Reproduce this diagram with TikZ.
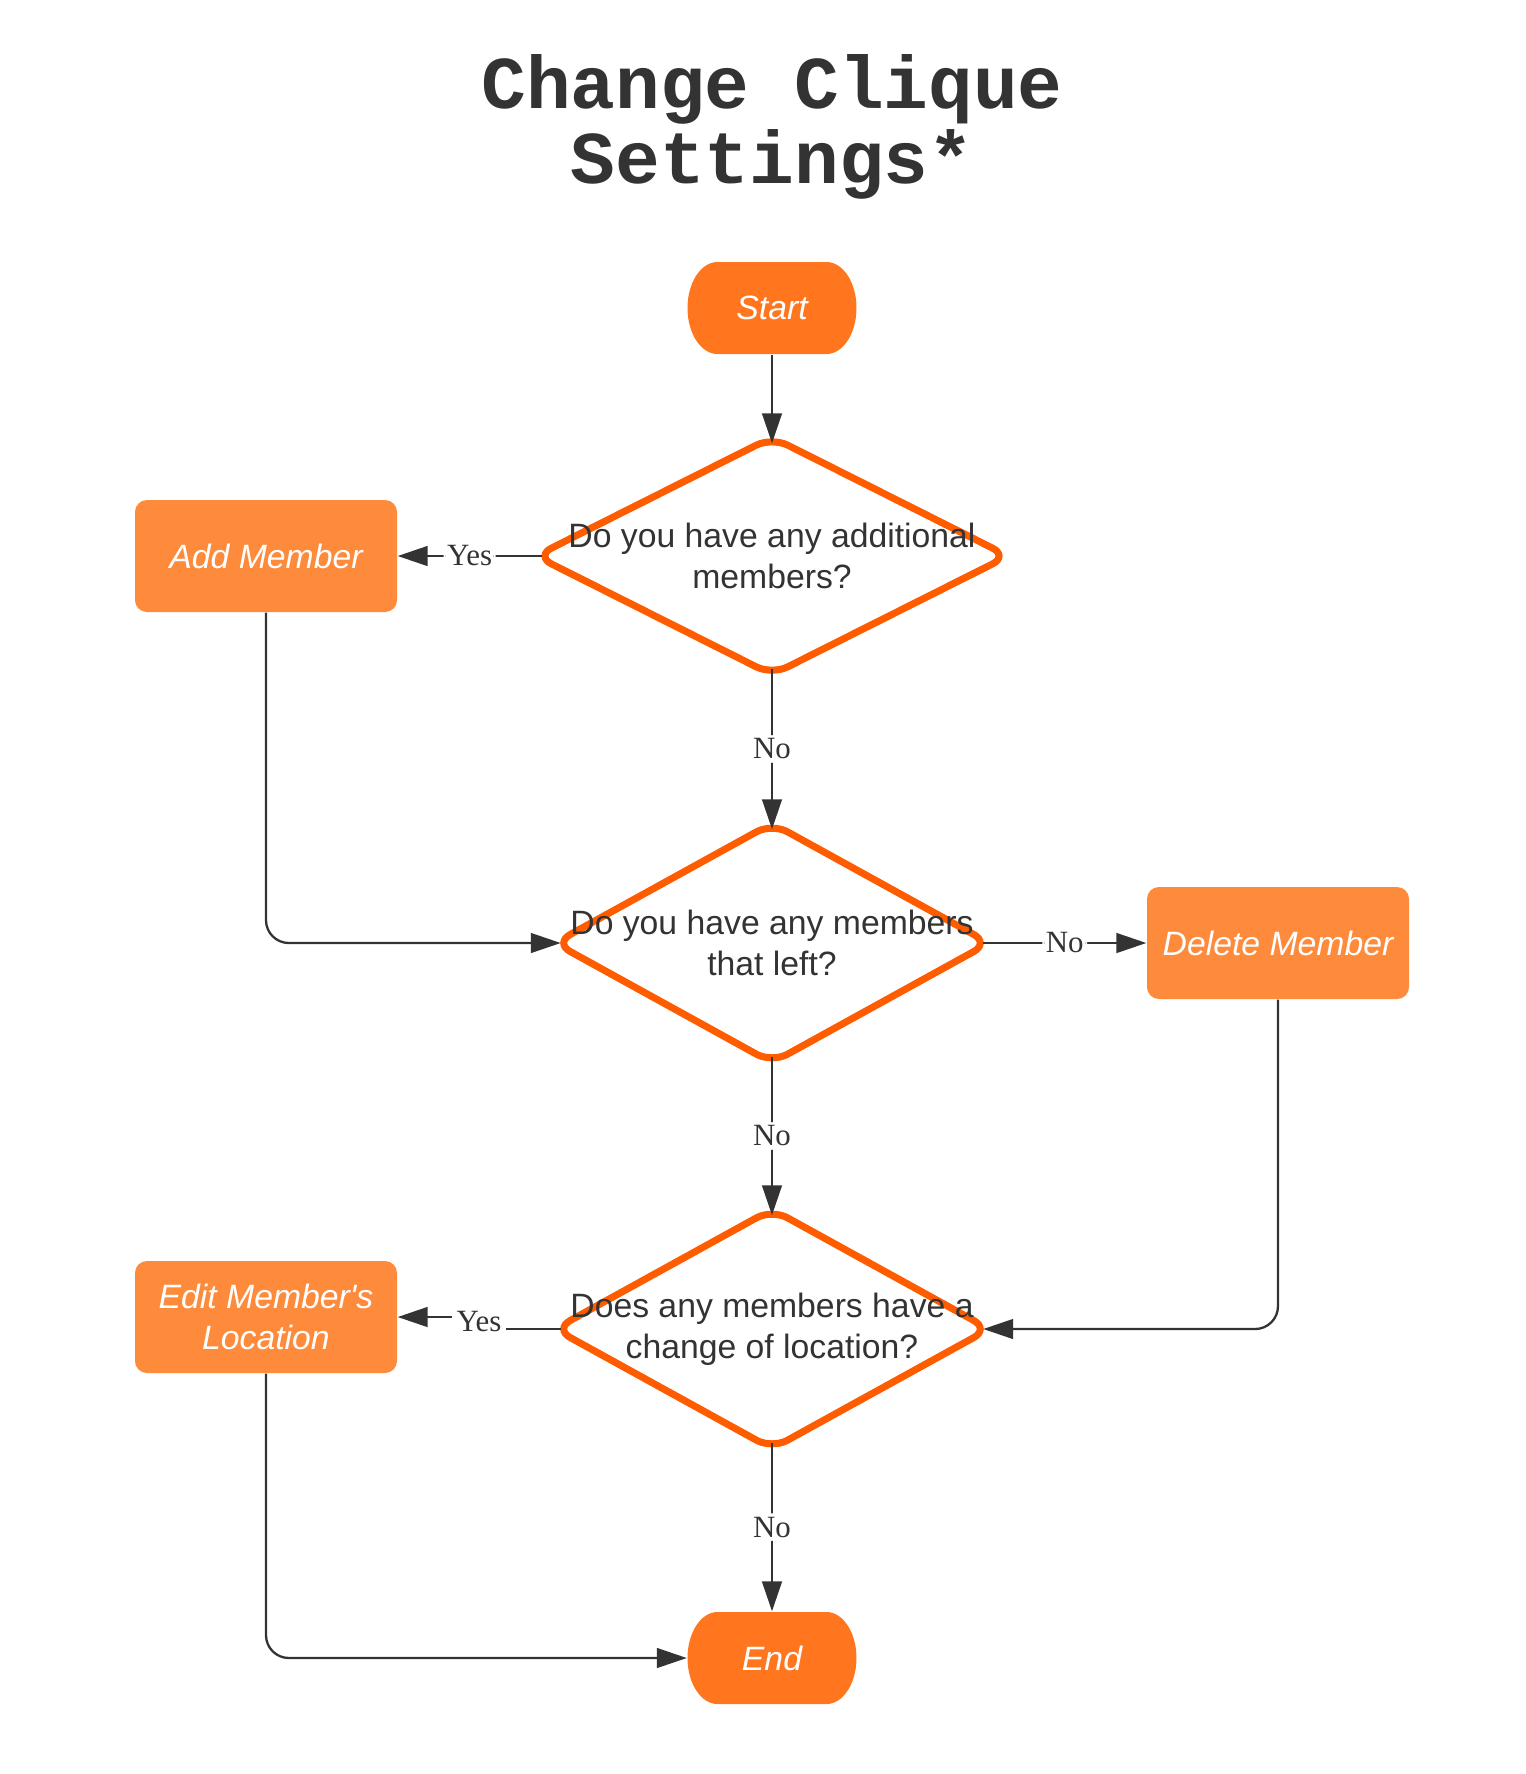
\documentclass[tikz,border=0pt]{standalone}
\usepackage{fontspec}
\setmainfont{Liberation Serif}
\setsansfont{Liberation Sans}
\newfontfamily\titlefont{Liberation Mono}
\usetikzlibrary{positioning, arrows.meta, shapes.geometric}

\definecolor{inkgray}{HTML}{333333}
\definecolor{termorange}{HTML}{FF761F}
\definecolor{boxorange}{HTML}{FE8A3B}
\definecolor{lineorange}{HTML}{FF5C00}

\begin{document}
\begin{tikzpicture}[
  >={Triangle[length=8.5pt, width=5.6pt]},
  edge/.style={->, draw=inkgray, line width=0.65pt, rounded corners=6.5pt},
  terminal/.style={rectangle, minimum width=1.69cm, minimum height=0.92cm, inner sep=0pt, text=white,
    font=\sffamily\itshape\fontsize{9.6}{11.7}\selectfont,
    path picture={
      \fill[termorange] ([xshift=3mm]path picture bounding box.north west)
        -- ([xshift=-3mm]path picture bounding box.north east)
        arc[start angle=90, end angle=-90, x radius=3mm, y radius=4.6mm]
        -- ([xshift=3mm]path picture bounding box.south west)
        arc[start angle=270, end angle=90, x radius=3mm, y radius=4.6mm] -- cycle;
    }},
  process/.style={rectangle, rounded corners=3.4pt, fill=boxorange, minimum width=2.62cm,
    minimum height=1.12cm, inner sep=0pt, align=center, text=white,
    font=\sffamily\itshape\fontsize{9.6}{11.9}\selectfont},
  decision/.style={diamond, draw=lineorange, line width=2pt, rounded corners=5pt, inner sep=0pt,
    outer sep=-1.2pt},
  question/.style={text=inkgray, align=center, font=\sffamily\fontsize{9.6}{11.7}\selectfont},
  elabel/.style={fill=white, inner sep=1pt, text=inkgray, font=\fontsize{8.8}{10}\selectfont},
  heading/.style={text=inkgray, align=center, font=\titlefont\bfseries\fontsize{21.2}{21.3}\selectfont}
]
\useasboundingbox (0,0) rectangle (15.26,-17.74);

% --- Title ---
\node[heading, anchor=base] (title) at (7.72,-1.83) {Change Clique\\Settings*};

% --- Nodes ---
\node[terminal] (start) at (7.72,-3.08) {Start};

\node[decision, minimum width=4.69cm, minimum height=2.34cm,
  label={[question]center:{Do you have any additional\\members?}}] (addq) at (7.72,-5.56) {};
\node[process] (addm) at (2.66,-5.56) {Add Member};

\node[decision, minimum width=4.31cm, minimum height=2.36cm,
  label={[question]center:{Do you have any members\\that left?}}] (leftq) at (7.72,-9.43) {};
\node[process] (delm) at (12.78,-9.43) {Delete Member};

\node[decision, minimum width=4.31cm, minimum height=2.36cm,
  label={[question]center:{Does any members have a\\change of location?}}] (locq) at (7.72,-13.29) {};
\node[process] (editm) at (2.66,-13.17) {Edit Member\textquotesingle s\\Location};

\node[terminal] (end) at (7.72,-16.58) {End};

% --- Edges ---
\draw[edge] (start) -- (addq);
\draw[edge] (addq.west) -- node[elabel] {Yes} (addm);
\draw[edge] (addq) -- node[elabel] {No} (leftq);
\draw[edge] (addm) |- (leftq.west);

\draw[edge] (leftq.east) -- node[elabel] {No} (delm);
\draw[edge] (leftq) -- node[elabel] {No} (locq);
\draw[edge] (delm) |- (locq.east);

% the Yes label sits on the step between the two levels
\node[elabel] (yes2) at (4.79,-13.22) {Yes};
\draw[draw=inkgray, line width=0.65pt] (locq.west) -- (yes2.east |- locq.west);
\draw[edge] (yes2.west |- editm.east) -- (editm);

\draw[edge] (locq) -- node[elabel] {No} (end);
\draw[edge] (editm) |- (end);

\end{tikzpicture}
\end{document}
